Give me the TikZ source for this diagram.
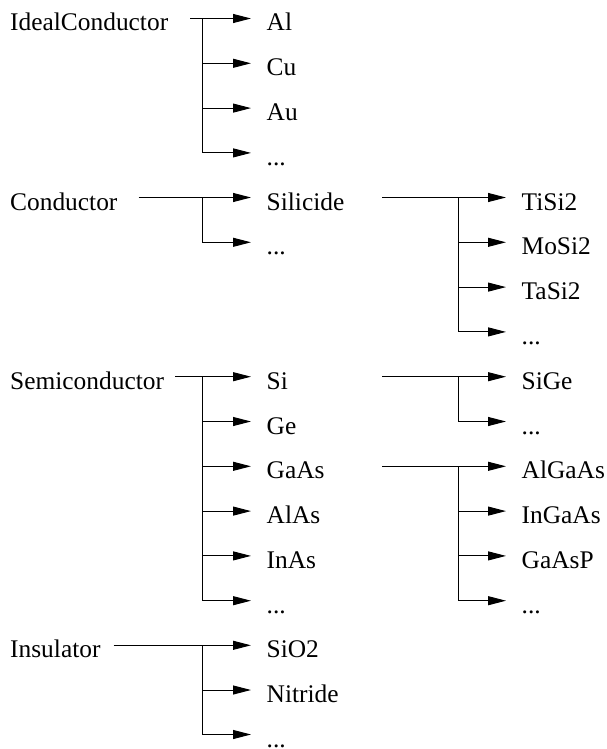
\documentclass[tikz,border=0pt]{standalone}
\usepackage{fontspec}
\setmainfont{Liberation Serif}
\usetikzlibrary{arrows.meta}
\begin{document}
\begin{tikzpicture}[x=1pt,y=1pt,
  every node/.style={font=\fontsize{25.4}{30}\selectfont, anchor=west,
    inner xsep=0pt, inner ysep=0pt, text height=25pt, text depth=0pt},
  leaf/.style={inner xsep=15.5pt},
  link/.style={line width=1pt},
  feed/.style={link, -{Triangle[length=18pt,width=9pt]}}]
\useasboundingbox (0,0) rectangle (606,-749);

% branching columns
\coordinate (j1) at (202,0);
\coordinate (s2) at (382,0);
\coordinate (j2) at (458,0);

% top-level classes
\node (ideal) at (10,-18.5)  {IdealConductor};
\node (cond)  at (10,-197.5) {Conductor};
\node (semi)  at (10,-376.7) {Semiconductor};
\node (insul) at (10,-645.3) {Insulator};

% materials
\node[leaf] (al)       at (251,-18.5)  {Al};
\node[leaf] (cu)       at (251,-63.3)  {Cu};
\node[leaf] (au)       at (251,-108.1) {Au};
\node[leaf] (idots)    at (251,-152.9) {...};
\node[leaf] (silicide) at (251,-197.5) {Silicide};
\node[leaf] (cdots)    at (251,-242.3) {...};
\node[leaf] (si)       at (251,-376.7) {Si};
\node[leaf] (ge)       at (251,-421.5) {Ge};
\node[leaf] (gaas)     at (251,-466.3) {GaAs};
\node[leaf] (alas)     at (251,-511.1) {AlAs};
\node[leaf] (inas)     at (251,-555.9) {InAs};
\node[leaf] (smdots)   at (251,-600.7) {...};
\node[leaf] (sio)      at (251,-645.3) {SiO2};
\node[leaf] (nitride)  at (251,-690.0) {Nitride};
\node[leaf] (indots)   at (251,-734.5) {...};

% compounds
\node[leaf] (tisi)    at (506,-197.5) {TiSi2};
\node[leaf] (mosi)    at (506,-242.3) {MoSi2};
\node[leaf] (tasi)    at (506,-287.1) {TaSi2};
\node[leaf] (sldots)  at (506,-331.9) {...};
\node[leaf] (sige)    at (506,-376.7) {SiGe};
\node[leaf] (sgdots)  at (506,-421.5) {...};
\node[leaf] (algaas)  at (506,-466.3) {AlGaAs};
\node[leaf] (ingaas)  at (506,-511.1) {InGaAs};
\node[leaf] (gaasp)   at (506,-555.9) {GaAsP};
\node[leaf] (gadots)  at (506,-600.7) {...};

% IdealConductor
\draw[feed] ([xshift=22pt]ideal.east) -- (al.west);
\draw[feed] (ideal -| j1) |- (idots.west);
\foreach \n in {cu,au} \draw[feed] (\n -| j1) -- (\n.west);

% Conductor
\draw[feed] ([xshift=21pt]cond.east) -- (silicide.west);
\draw[feed] (cond -| j1) |- (cdots.west);

% Silicide
\draw[feed] (silicide -| s2) -- (tisi.west);
\draw[feed] (silicide -| j2) |- (sldots.west);
\foreach \n in {mosi,tasi} \draw[feed] (\n -| j2) -- (\n.west);

% Semiconductor
\draw[feed] ([xshift=11pt]semi.east) -- (si.west);
\draw[feed] (semi -| j1) |- (smdots.west);
\foreach \n in {ge,gaas,alas,inas} \draw[feed] (\n -| j1) -- (\n.west);

% Si
\draw[feed] (si -| s2) -- (sige.west);
\draw[feed] (si -| j2) |- (sgdots.west);

% GaAs
\draw[feed] (gaas -| s2) -- (algaas.west);
\draw[feed] (gaas -| j2) |- (gadots.west);
\foreach \n in {ingaas,gaasp} \draw[feed] (\n -| j2) -- (\n.west);

% Insulator
\draw[feed] ([xshift=13pt]insul.east) -- (sio.west);
\draw[feed] (insul -| j1) |- (indots.west);
\draw[feed] (nitride -| j1) -- (nitride.west);
\end{tikzpicture}
\end{document}
